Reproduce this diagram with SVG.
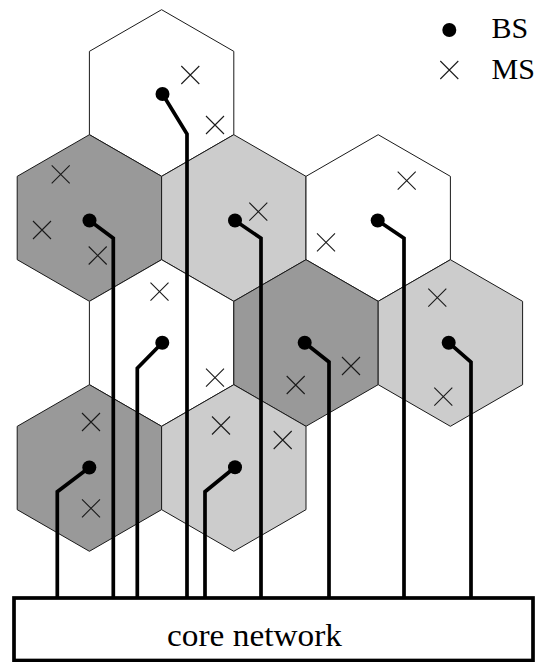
<svg xmlns="http://www.w3.org/2000/svg" xmlns:xlink="http://www.w3.org/1999/xlink" width="538" height="662" viewBox="0 0 538 662">
  <style>
    .cell { stroke: #1a1a1a; stroke-width: 1; stroke-linejoin: miter; }
    .white { fill: #ffffff; }
    .light { fill: #cccccc; }
    .dark { fill: #999999; }
    .bs { fill: #000000; }
    .ms { stroke: #1a1a1a; stroke-width: 1.1; fill: none; }
    .link { stroke: #000000; stroke-width: 3.7; fill: none; stroke-linejoin: miter; }
    .core { fill: #ffffff; stroke: #000000; stroke-width: 3.7; }
    .lbl { font-family: "Liberation Serif", "Times New Roman", serif; font-size: 30px; fill: #000000; }
  </style>
  <defs>
    <!-- pointy-top hexagonal cell, centred on the origin (r = 83.3) -->
    <polygon id="hex" points="0,-83.3 72.2,-41.65 72.2,41.65 0,83.3 -72.2,41.65 -72.2,-41.65"/>
    <!-- mobile station marker -->
    <path id="cross" d="M-9,-9 L9,9 M9,-9 L-9,9"/>
  </defs>

  <!-- cells -->
  <g id="cell-r1-b"><use xlink:href="#hex" x="161.6" y="93" class="cell white"/></g>
  <g id="cell-r2-a"><use xlink:href="#hex" x="89.4" y="218" class="cell dark"/></g>
  <g id="cell-r2-c"><use xlink:href="#hex" x="233.8" y="218" class="cell light"/></g>
  <g id="cell-r2-e"><use xlink:href="#hex" x="378.2" y="218" class="cell white"/></g>
  <g id="cell-r3-b"><use xlink:href="#hex" x="161.6" y="343" class="cell white"/></g>
  <g id="cell-r3-d"><use xlink:href="#hex" x="306" y="343" class="cell dark"/></g>
  <g id="cell-r3-f"><use xlink:href="#hex" x="450.4" y="343" class="cell light"/></g>
  <g id="cell-r4-a"><use xlink:href="#hex" x="89.4" y="468" class="cell dark"/></g>
  <g id="cell-r4-c"><use xlink:href="#hex" x="233.8" y="468" class="cell light"/></g>

  <!-- mobile stations -->
  <g id="mobiles" class="ms">
    <use xlink:href="#cross" x="190.3" y="75"/>
    <use xlink:href="#cross" x="215" y="125"/>
    <use xlink:href="#cross" x="60.7" y="174.3"/>
    <use xlink:href="#cross" x="42" y="230"/>
    <use xlink:href="#cross" x="97.7" y="255.5"/>
    <use xlink:href="#cross" x="159.5" y="291.7"/>
    <use xlink:href="#cross" x="258.3" y="211.7"/>
    <use xlink:href="#cross" x="326" y="242.3"/>
    <use xlink:href="#cross" x="406.7" y="180.7"/>
    <use xlink:href="#cross" x="437.3" y="297.7"/>
    <use xlink:href="#cross" x="215" y="377.7"/>
    <use xlink:href="#cross" x="351" y="366"/>
    <use xlink:href="#cross" x="295.7" y="385"/>
    <use xlink:href="#cross" x="443.3" y="396.7"/>
    <use xlink:href="#cross" x="91" y="422"/>
    <use xlink:href="#cross" x="91" y="508.3"/>
    <use xlink:href="#cross" x="221" y="425.5"/>
    <use xlink:href="#cross" x="282.7" y="440"/>
  </g>

  <!-- backhaul links from each base station to the core network -->
  <g id="connectors" class="link">
    <path d="M162.5,94 L187,134 L187,598"/>
    <path d="M89.5,220.5 L113.3,238.3 L113.3,598"/>
    <path d="M235,220.5 L261,238.3 L261,598"/>
    <path d="M377.7,220.5 L404,238.3 L404,598"/>
    <path d="M162.3,342.7 L137.3,368.3 L137.3,598"/>
    <path d="M304.7,342.7 L329,362 L329,598"/>
    <path d="M448.7,342.7 L471,362 L471,598"/>
    <path d="M89.3,467.5 L57.3,491.7 L57.3,598"/>
    <path d="M235,467.3 L205,491.7 L205,598"/>
  </g>

  <!-- base stations -->
  <g id="base-stations" class="bs">
    <circle cx="162.5" cy="94" r="7"/>
    <circle cx="89.5" cy="220.5" r="7"/>
    <circle cx="235" cy="220.5" r="7"/>
    <circle cx="377.7" cy="220.5" r="7"/>
    <circle cx="162.3" cy="342.7" r="7"/>
    <circle cx="304.7" cy="342.7" r="7"/>
    <circle cx="448.7" cy="342.7" r="7"/>
    <circle cx="89.3" cy="467.5" r="7"/>
    <circle cx="235" cy="467.3" r="7"/>
  </g>

  <!-- core network -->
  <g id="core-network">
    <rect x="14" y="598" width="519" height="62.5" class="core"/>
    <text x="167" y="645.5" textLength="175" lengthAdjust="spacingAndGlyphs" class="lbl" style="font-size:31px">core network</text>
  </g>

  <!-- legend -->
  <g id="legend">
    <circle cx="449.3" cy="30" r="7" class="bs"/>
    <text x="491.5" y="37.5" class="lbl">BS</text>
    <use xlink:href="#cross" x="449.3" y="70" class="ms"/>
    <text x="491.5" y="78.5" class="lbl">MS</text>
  </g>
</svg>
